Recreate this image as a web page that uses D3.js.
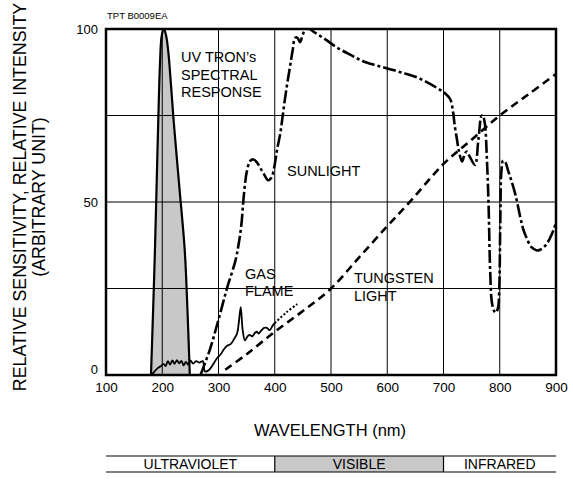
<!DOCTYPE html>
<html>
<head>
<meta charset="utf-8">
<script src="https://cdn.jsdelivr.net/npm/d3@7/dist/d3.min.js"></script>
<style>
  html, body { margin: 0; padding: 0; background: #fff; }
  svg text { font-family: "Liberation Sans", Arial, Helvetica, sans-serif; fill: #000; }
</style>
</head>
<body>
<svg id="chart" width="573" height="480"></svg>
<script>
// ---------- data ----------
const xTicks = [100, 200, 300, 400, 500, 600, 700, 800, 900];
const yTicks = [0, 50, 100];
const xGrid = [200, 300, 400, 500, 600, 700, 800];
const yGrid = [25, 50, 75];

// UV TRON's spectral response (shaded)
const uvWave = [180, 184, 187, 190, 193, 196, 199, 203, 207, 211, 215, 220, 230, 240, 245, 249];
const uvResp = [0, 20, 36, 55, 74, 90, 98, 100, 98, 93, 85, 74, 55, 36, 18, 0];

// Sunlight (dash-dot)
const sunWave = [268, 285, 300, 315, 330, 336, 341, 344, 347, 350, 356, 362, 368, 374, 381, 388, 394, 399, 404, 410, 415, 421, 427, 432, 436, 440, 445, 450, 455, 462, 471, 490, 510, 535, 557, 580, 605, 630, 653, 672, 688, 702, 712, 717, 720, 724, 727, 733, 737, 741, 747, 756, 762, 768, 771, 774, 777, 780, 783, 786, 790, 793, 797, 799, 801, 803, 806, 810, 815, 821, 828, 836, 842, 848, 856, 866, 875, 884, 892, 900];
const sunInt  = [0, 7.5, 16, 25, 33, 38, 44, 50, 55, 58.5, 61.8, 62.3, 61.5, 59.9, 58, 56.3, 57, 60, 65, 70, 76, 83, 89, 94, 97.4, 97.5, 96.2, 98.5, 100, 100, 99, 97, 94.7, 92.5, 90.7, 89.5, 88.4, 87.2, 86, 84.5, 83, 81.5, 79.7, 76, 72, 68, 65, 61.7, 63.5, 64.6, 63, 60.7, 68, 75, 74.5, 72, 63, 50, 30, 21, 18.5, 18, 19.5, 24, 45, 59, 62, 61.5, 59, 56, 52, 46, 42, 39.5, 37, 36, 36.5, 38, 40.5, 44];

// Tungsten light (dashed)
const tungWave = [312, 350, 400, 450, 500, 550, 600, 640, 700, 750, 800, 850, 900];
const tungInt  = [1.5, 6, 12.5, 18.5, 25, 34, 43, 50, 61, 68, 75, 81, 87];

// Gas flame (solid, then dotted)
const gasWave = [181, 186, 192, 197, 202, 206, 210, 214, 218, 222, 226, 230, 234, 238, 242, 246, 250, 255, 260, 266, 272, 276, 281, 286, 292, 298, 304, 310, 316, 322, 328, 333, 336, 339.5, 343, 347, 351, 355, 360, 365, 368, 371, 376, 381, 386, 391, 396, 400];
const gasInt  = [0, 1, 2, 2.5, 3.2, 2.6, 4, 3, 4.2, 3.2, 4.3, 3.4, 4.1, 2.8, 3.8, 3, 4.2, 3.3, 4, 3.6, 4, 1, 1.2, 2, 3.5, 5, 6, 7.5, 8.5, 9, 10.5, 12, 15, 19.6, 13, 10, 11, 11.6, 11.2, 12.2, 12.5, 12, 12.8, 13.6, 13.6, 13, 14.2, 15];
const gasDotWave = [400, 420, 440];
const gasDotInt  = [15, 18, 20.5];

// Bottom band
const bandEdges = [100, 400, 700, 900];
const bandNames = ["ULTRAVIOLET", "VISIBLE", "INFRARED"];

// Labels
const curveLabels = [
  { lines: ["UV TRON\u2019s", "SPECTRAL", "RESPONSE"], x: 181, y: 62 },
  { lines: ["SUNLIGHT"], x: 287, y: 176 },
  { lines: ["GAS", "FLAME"], x: 245, y: 278.5 },
  { lines: ["TUNGSTEN", "LIGHT"], x: 354, y: 283 }
];

// ---------- layout ----------
const svg = d3.select("#chart");
const L = 106, R = 556, T = 29, B = 375;
const x = d3.scaleLinear().domain([100, 900]).range([L, R]);
const y = d3.scaleLinear().domain([0, 100]).range([B, T]);

// code label
svg.append("text").attr("x", 107).attr("y", 18.5).attr("font-size", 9.5).text("TPT B0009EA");

// clip
svg.append("clipPath").attr("id", "plotclip")
  .append("rect").attr("x", L).attr("y", T).attr("width", R - L).attr("height", B - T);

const plot = svg.append("g").attr("clip-path", "url(#plotclip)");

// UV shaded area
const uvData = uvWave.map((w, i) => [w, uvResp[i]]);
plot.append("path")
  .datum(uvData)
  .attr("d", d3.area().x(d => x(d[0])).y0(y(0)).y1(d => y(d[1])).curve(d3.curveCatmullRom.alpha(0.5)))
  .attr("fill", "#c8c8c8")
  .attr("stroke", "none");

// gridlines
plot.selectAll(".vg").data(xGrid).join("line")
  .attr("x1", d => x(d)).attr("x2", d => x(d))
  .attr("y1", T).attr("y2", B)
  .attr("stroke", "#000").attr("stroke-width", 1);
plot.selectAll(".hg").data(yGrid).join("line")
  .attr("x1", L).attr("x2", R)
  .attr("y1", d => y(d)).attr("y2", d => y(d))
  .attr("stroke", "#000").attr("stroke-width", 1);

// UV outline
plot.append("path")
  .datum(uvData)
  .attr("d", d3.line().x(d => x(d[0])).y(d => y(d[1])).curve(d3.curveCatmullRom.alpha(0.5)))
  .attr("fill", "none").attr("stroke", "#000").attr("stroke-width", 2.2)
  .attr("stroke-linejoin", "round");

const line = d3.line().x(d => x(d[0])).y(d => y(d[1])).curve(d3.curveCatmullRom.alpha(0.5));

// Gas flame
plot.append("path")
  .datum(gasWave.map((w, i) => [w, gasInt[i]]))
  .attr("d", line)
  .attr("fill", "none").attr("stroke", "#000").attr("stroke-width", 1.8)
  .attr("stroke-linejoin", "round");
plot.append("path")
  .datum(gasDotWave.map((w, i) => [w, gasDotInt[i]]))
  .attr("d", line)
  .attr("fill", "none").attr("stroke", "#000").attr("stroke-width", 2)
  .attr("stroke-dasharray", "2,2");

// Tungsten
plot.append("path")
  .datum(tungWave.map((w, i) => [w, tungInt[i]]))
  .attr("d", line)
  .attr("fill", "none").attr("stroke", "#000").attr("stroke-width", 2.6)
  .attr("stroke-dasharray", "8,5");

// Sunlight
plot.append("path")
  .datum(sunWave.map((w, i) => [w, sunInt[i]]))
  .attr("d", line)
  .attr("fill", "none").attr("stroke", "#000").attr("stroke-width", 2.6)
  .attr("stroke-dasharray", "13,3,3,3")
  .attr("stroke-linejoin", "round");

// frame
svg.append("rect").attr("x", L).attr("y", T).attr("width", R - L).attr("height", B - T)
  .attr("fill", "none").attr("stroke", "#000").attr("stroke-width", 2.5);

// axes (labels only)
const xAxis = d3.axisBottom(x).tickValues(xTicks).tickSize(0).tickPadding(0).tickFormat(d3.format("d"));
const gx = svg.append("g").attr("transform", `translate(0,${B})`).call(xAxis);
gx.select(".domain").remove();
gx.selectAll("text").attr("font-size", 13.5).attr("dy", null).attr("y", 17)
  .attr("font-family", "Liberation Sans, Arial, sans-serif").attr("fill", "#000");

const yAxis = d3.axisLeft(y).tickValues(yTicks).tickSize(0).tickPadding(0).tickFormat(d3.format("d"));
const gy = svg.append("g").attr("transform", `translate(${L - 8},0)`).call(yAxis);
gy.select(".domain").remove();
gy.selectAll("text").attr("font-size", 13).attr("x", 0)
  .attr("font-family", "Liberation Sans, Arial, sans-serif").attr("fill", "#000")
  .attr("dy", d => d === 0 ? "-0.15em" : "0.35em");

// axis titles
svg.append("text").attr("x", (L + R) / 2 - 1).attr("y", 436)
  .attr("text-anchor", "middle").attr("font-size", 16.5).text("WAVELENGTH (nm)");

const yt = svg.append("text").attr("transform", "translate(0,197) rotate(-90)")
  .attr("text-anchor", "middle").attr("font-size", 17.8);
yt.append("tspan").attr("x", 0).attr("y", 26).text("RELATIVE SENSITIVITY, RELATIVE INTENSITY");
yt.append("tspan").attr("x", 0).attr("y", 44.5).text("(ARBITRARY UNIT)");

// curve labels
curveLabels.forEach(c => {
  const t = svg.append("text").attr("font-size", 14.5);
  c.lines.forEach((s, i) => {
    t.append("tspan").attr("x", c.x).attr("y", c.y + i * 17.5).text(s);
  });
});

// bottom band
const bandTop = 456, bandBot = 472;
const band = svg.append("g");
bandNames.forEach((n, i) => {
  const x0 = x(bandEdges[i]), x1 = x(bandEdges[i + 1]);
  if (n === "VISIBLE") {
    band.append("rect").attr("x", x0).attr("y", bandTop).attr("width", x1 - x0).attr("height", bandBot - bandTop)
      .attr("fill", "#c8c8c8");
  }
  band.append("text").attr("x", (x0 + x1) / 2).attr("y", bandBot - 3)
    .attr("text-anchor", "middle").attr("font-size", 14).text(n);
});
band.append("line").attr("x1", x(100)).attr("x2", x(900)).attr("y1", bandTop).attr("y2", bandTop)
  .attr("stroke", "#000").attr("stroke-width", 1.2);
band.append("line").attr("x1", x(100)).attr("x2", x(900)).attr("y1", bandBot).attr("y2", bandBot)
  .attr("stroke", "#000").attr("stroke-width", 1.2);
band.selectAll(".div").data(bandEdges.slice(1, -1)).join("line")
  .attr("x1", d => x(d)).attr("x2", d => x(d)).attr("y1", bandTop).attr("y2", bandBot)
  .attr("stroke", "#000").attr("stroke-width", 1.2);
</script>
</body>
</html>
